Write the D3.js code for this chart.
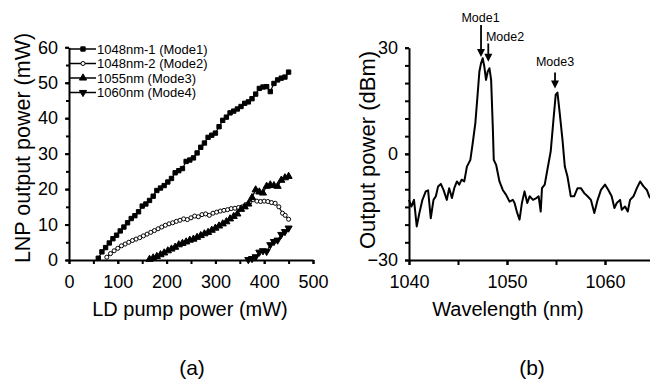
<!DOCTYPE html>
<html>
<head>
<meta charset="utf-8">
<script src="https://cdn.jsdelivr.net/npm/d3@7"></script>
<style>
  body { margin: 0; background: #fff; }
  svg { display: block; font-family: "Liberation Sans", Arial, Helvetica, sans-serif; }
  .axis path, .axis line { stroke: #000; stroke-width: 2; }
  .axis text { fill: #000; font-size: 18px; }
</style>
</head>
<body>
<div id="chart"></div>
<script>
// (a) LNP output power vs LD pump power, [pump mW, output mW]
const mode1 = [[60,0.5],[67.5,2.3],[75,3.5],[82.5,4.8],[90,6.0],[97.5,7.0],[105,8.2],[112.5,9.3],[120,10.5],[127.5,11.7],[135,12.5],[142.5,13.6],[150,15.2],[157.5,15.8],[165,16.8],[172.5,18.0],[180,19.6],[187.5,20.3],[195,21.0],[202.5,22.0],[210,23.0],[217.5,24.6],[225,25.2],[232.5,25.8],[240,27.8],[247.5,28.2],[255,28.8],[262.5,30.2],[270,31.8],[277.5,33.0],[285,34.6],[292.5,35.2],[300,35.8],[307.5,37.6],[315,39.4],[322.5,40.3],[330,41.5],[337.5,42.0],[345,42.6],[352.5,43.3],[360,44.2],[367.5,44.6],[375,45.5],[382.5,46.8],[390,48.4],[397.5,48.8],[405,48.9],[412.5,47.5],[420,49.8],[427.5,50.8],[435,51.3],[442.5,51.6],[450,53.0]];
const mode2 = [[77.5,0.8],[85,1.8],[92.5,2.6],[100,3.3],[107.5,4.0],[115,4.5],[122.5,5.0],[130,5.5],[137.5,5.9],[145,6.3],[152.5,6.8],[160,7.3],[167.5,7.8],[175,8.3],[182.5,8.8],[190,9.3],[197.5,9.8],[205,10.2],[212.5,10.5],[220,10.9],[227.5,11.2],[235,11.6],[242.5,11.4],[250,11.9],[257.5,12.4],[265,12.2],[272.5,12.8],[280,13.0],[287.5,12.6],[295,13.2],[302.5,13.5],[310,13.8],[317.5,14.0],[325,14.2],[332.5,14.5],[340,14.6],[347.5,14.8],[355,15.0],[362.5,15.6],[370,16.2],[377.5,17.0],[385,16.6],[392.5,16.5],[400,16.6],[407.5,16.5],[415,16.2],[422.5,16.0],[430,15.0],[437.5,13.2],[443,12.6],[450,11.5]];
const mode3 = [[165,0.2],[172.5,0.6],[180,1.0],[187.5,1.5],[195,2.0],[202.5,2.6],[210,3.1],[217.5,3.6],[225,4.3],[232.5,4.7],[240,5.1],[247.5,5.6],[255,5.9],[262.5,6.4],[270,6.9],[277.5,7.4],[285,7.8],[292.5,8.4],[300,9.0],[307.5,9.6],[315,10.2],[322.5,10.8],[330,11.6],[337.5,12.3],[345,13.0],[352.5,14.3],[360,15.0],[367.5,15.8],[375,17.6],[382.5,19.8],[390,19.2],[397.5,18.9],[405,20.8],[412.5,21.2],[420,21.0],[427.5,20.8],[435,22.5],[442.5,23.2],[450,23.6]];
const mode4 = [[367.5,0.1],[375,0.4],[382.5,0.9],[390,2.2],[397.5,2.6],[405,2.4],[412.5,4.3],[420,5.2],[427.5,5.6],[435,7.2],[442.5,8.0],[450,9.0]];
const legendNames = ['1048nm-1 (Mode1)', '1048nm-2 (Mode2)', '1055nm (Mode3)', '1060nm (Mode4)'];
const pumpTicks = [0, 100, 200, 300, 400, 500];
const lnpTicks = [0, 10, 20, 30, 40, 50, 60];

// (b) spectrum, [wavelength nm, dBm]
const spectrum = [[1040.00,-13.0],[1040.24,-14.9],[1040.51,-13.0],[1040.79,-20.5],[1041.06,-16.7],[1041.37,-13.0],[1041.71,-10.6],[1041.95,-10.3],[1042.22,-18.2],[1042.50,-13.0],[1042.74,-12.0],[1042.97,-9.2],[1043.25,-8.5],[1043.52,-10.2],[1043.86,-13.0],[1044.10,-9.7],[1044.38,-12.5],[1044.62,-9.7],[1044.89,-7.8],[1045.13,-8.7],[1045.37,-7.3],[1045.64,-7.8],[1045.91,-3.6],[1046.26,-1.7],[1046.50,3.0],[1046.77,8.7],[1047.01,17.1],[1047.18,23.2],[1047.35,25.6],[1047.52,27.0],[1047.69,24.6],[1047.86,20.9],[1048.03,23.2],[1048.21,24.2],[1048.38,20.9],[1048.55,7.7],[1048.65,-1.7],[1048.89,-3.1],[1049.23,-7.8],[1049.57,-10.2],[1049.91,-11.6],[1050.26,-13.5],[1050.60,-13.0],[1050.77,-13.9],[1051.04,-16.7],[1051.28,-18.6],[1051.52,-13.9],[1051.79,-10.6],[1052.07,-13.9],[1052.31,-12.0],[1052.65,-13.0],[1052.99,-12.5],[1053.23,-12.0],[1053.44,-16.3],[1053.57,-9.7],[1053.85,-8.7],[1054.12,-4.5],[1054.46,0.7],[1054.74,9.6],[1054.97,16.7],[1055.15,17.3],[1055.38,11.5],[1055.66,4.0],[1055.90,-3.6],[1056.17,-6.4],[1056.51,-12.0],[1056.85,-12.0],[1057.20,-9.7],[1057.54,-9.7],[1057.88,-11.1],[1058.22,-12.0],[1058.56,-13.0],[1058.91,-16.7],[1059.25,-13.0],[1059.59,-10.2],[1060.00,-8.7],[1060.34,-10.2],[1060.68,-12.0],[1060.96,-15.3],[1061.20,-13.9],[1061.54,-13.0],[1061.71,-15.8],[1062.05,-14.9],[1062.32,-16.3],[1062.56,-13.0],[1062.91,-12.0],[1063.25,-9.7],[1063.59,-7.8],[1063.93,-9.2],[1064.27,-10.2],[1064.51,-12.0],[1064.79,-13.0]];
const modeNames = ['Mode1', 'Mode2', 'Mode3'];
const modeWl = [1047.35, 1048.09, 1054.9];
const modeTip = [27.4, 26.0, 18.5];
const modeTail = [36.4, 31.2, 23.0];
const modeLabelDb = [37.3, 31.8, 24.8];
const modeLabelWl = [1047.3, 1049.8, 1054.9];
const wlTicks = [1040, 1050, 1060];
const dbTicks = [-30, 0, 30];

const W = 650, H = 381;
const svg = d3.select('#chart').append('svg').attr('width', W).attr('height', H);

// ---------- panel (a) ----------
const xa = d3.scaleLinear().domain([0, 500]).range([69, 313]);
const ya = d3.scaleLinear().domain([0, 60]).range([260, 47.3]);

const gA = svg.append('g');

gA.append('g').attr('class', 'axis')
  .attr('transform', 'translate(0,260)')
  .call(d3.axisBottom(xa).tickValues(d3.range(0, 501, 50)).tickSize(4).tickSizeOuter(0).tickFormat(''));
gA.append('g').attr('class', 'axis')
  .attr('transform', 'translate(0,260)')
  .call(d3.axisBottom(xa).tickValues(pumpTicks).tickSize(4).tickPadding(11).tickSizeOuter(0).tickFormat(d3.format('d')))
  .call(g => g.select('.domain').remove());

gA.append('g').attr('class', 'axis')
  .attr('transform', 'translate(69,0)')
  .call(d3.axisLeft(ya).tickValues(d3.range(0, 61, 5)).tickSize(3).tickSizeOuter(0).tickFormat(''));
gA.append('g').attr('class', 'axis')
  .attr('transform', 'translate(69,0)')
  .call(d3.axisLeft(ya).tickValues(lnpTicks).tickSize(4).tickPadding(7).tickSizeOuter(0).tickFormat(d3.format('d')))
  .call(g => g.select('.domain').remove());

const seriesA = [mode1, mode2, mode3, mode4];
const symbols = [
  { type: d3.symbolSquare, size: 19, fill: '#000', rot: 0 },
  { type: d3.symbolCircle, size: 13, fill: '#fff', rot: 0 },
  { type: d3.symbolTriangle, size: 22, fill: '#000', rot: 0 },
  { type: d3.symbolTriangle, size: 22, fill: '#000', rot: 180 }
];

const lineA = d3.line().x(d => xa(d[0])).y(d => ya(d[1]));

function drawMarker(g, s, x, y) {
  g.append('path')
    .attr('d', d3.symbol().type(s.type).size(s.size)())
    .attr('transform', 'translate(' + x + ',' + y + ') rotate(' + s.rot + ')')
    .attr('fill', s.fill)
    .attr('stroke', '#000')
    .attr('stroke-width', 1);
}

seriesA.forEach((data, i) => {
  gA.append('path')
    .datum(data)
    .attr('fill', 'none')
    .attr('stroke', '#000')
    .attr('stroke-width', 1.2)
    .attr('d', lineA);
  const mg = gA.append('g');
  data.forEach(d => drawMarker(mg, symbols[i], xa(d[0]), ya(d[1])));
});

// legend
const legend = gA.append('g');
legendNames.forEach((name, i) => {
  const y = 49 + i * 14.5;
  legend.append('line')
    .attr('x1', 70).attr('x2', 96)
    .attr('y1', y).attr('y2', y)
    .attr('stroke', '#000').attr('stroke-width', 1.5);
  drawMarker(legend, symbols[i], 83, y);
  legend.append('text')
    .attr('x', 97).attr('y', y)
    .attr('dy', '0.35em')
    .style('font-size', '13px')
    .text(name);
});

gA.append('text')
  .attr('transform', 'translate(30,148) rotate(-90)')
  .attr('text-anchor', 'middle')
  .style('font-size', '21.5px')
  .text('LNP output power (mW)');

gA.append('text')
  .attr('x', 190).attr('y', 316)
  .attr('text-anchor', 'middle')
  .style('font-size', '20px')
  .text('LD pump power (mW)');

gA.append('text')
  .attr('x', 192).attr('y', 375)
  .attr('text-anchor', 'middle')
  .style('font-size', '21px')
  .text('(a)');

// ---------- panel (b) ----------
const xb = d3.scaleLinear().domain([1040, 1065]).range([409, 654]);
const yb = d3.scaleLinear().domain([-30, 30]).range([260, 47.7]);

const gB = svg.append('g');

gB.append('g').attr('class', 'axis')
  .attr('transform', 'translate(0,260)')
  .call(d3.axisBottom(xb).tickValues(d3.range(1040, 1066, 5)).tickSize(5).tickSizeOuter(0).tickFormat(''));
gB.append('g').attr('class', 'axis')
  .attr('transform', 'translate(0,260)')
  .call(d3.axisBottom(xb).tickValues(wlTicks).tickSize(5).tickPadding(10).tickSizeOuter(0).tickFormat(d3.format('d')))
  .call(g => g.select('.domain').remove());

gB.append('g').attr('class', 'axis')
  .attr('transform', 'translate(409,0)')
  .call(d3.axisLeft(yb).tickValues(d3.range(-30, 31, 5)).tickSize(4).tickSizeOuter(0).tickFormat(''));
gB.append('g').attr('class', 'axis')
  .attr('transform', 'translate(409,0)')
  .call(d3.axisLeft(yb).tickValues(dbTicks).tickSize(4).tickPadding(7).tickSizeOuter(0).tickFormat(d3.format('d')))
  .call(g => g.select('.domain').remove());

gB.append('path')
  .datum(spectrum)
  .attr('fill', 'none')
  .attr('stroke', '#000')
  .attr('stroke-width', 2)
  .attr('stroke-linejoin', 'round')
  .attr('d', d3.line().x(d => xb(d[0])).y(d => yb(d[1])));

modeNames.forEach((name, i) => {
  const x = xb(modeWl[i]);
  const tipY = yb(modeTip[i]);
  gB.append('line')
    .attr('x1', x).attr('x2', x)
    .attr('y1', yb(modeTail[i])).attr('y2', tipY - 6)
    .attr('stroke', '#000').attr('stroke-width', 1.8);
  gB.append('path')
    .attr('d', 'M' + (x - 4) + ',' + (tipY - 8) + 'L' + (x + 4) + ',' + (tipY - 8) + 'L' + x + ',' + tipY + 'Z')
    .attr('fill', '#000');
  gB.append('text')
    .attr('x', xb(modeLabelWl[i])).attr('y', yb(modeLabelDb[i]))
    .attr('text-anchor', 'middle')
    .style('font-size', '12.5px')
    .text(name);
});

gB.append('text')
  .attr('transform', 'translate(375,150) rotate(-90)')
  .attr('text-anchor', 'middle')
  .style('font-size', '22px')
  .text('Output power (dBm)');

gB.append('text')
  .attr('x', 508).attr('y', 316)
  .attr('text-anchor', 'middle')
  .style('font-size', '20px')
  .text('Wavelength (nm)');

gB.append('text')
  .attr('x', 532).attr('y', 375)
  .attr('text-anchor', 'middle')
  .style('font-size', '21px')
  .text('(b)');
</script>
</body>
</html>
